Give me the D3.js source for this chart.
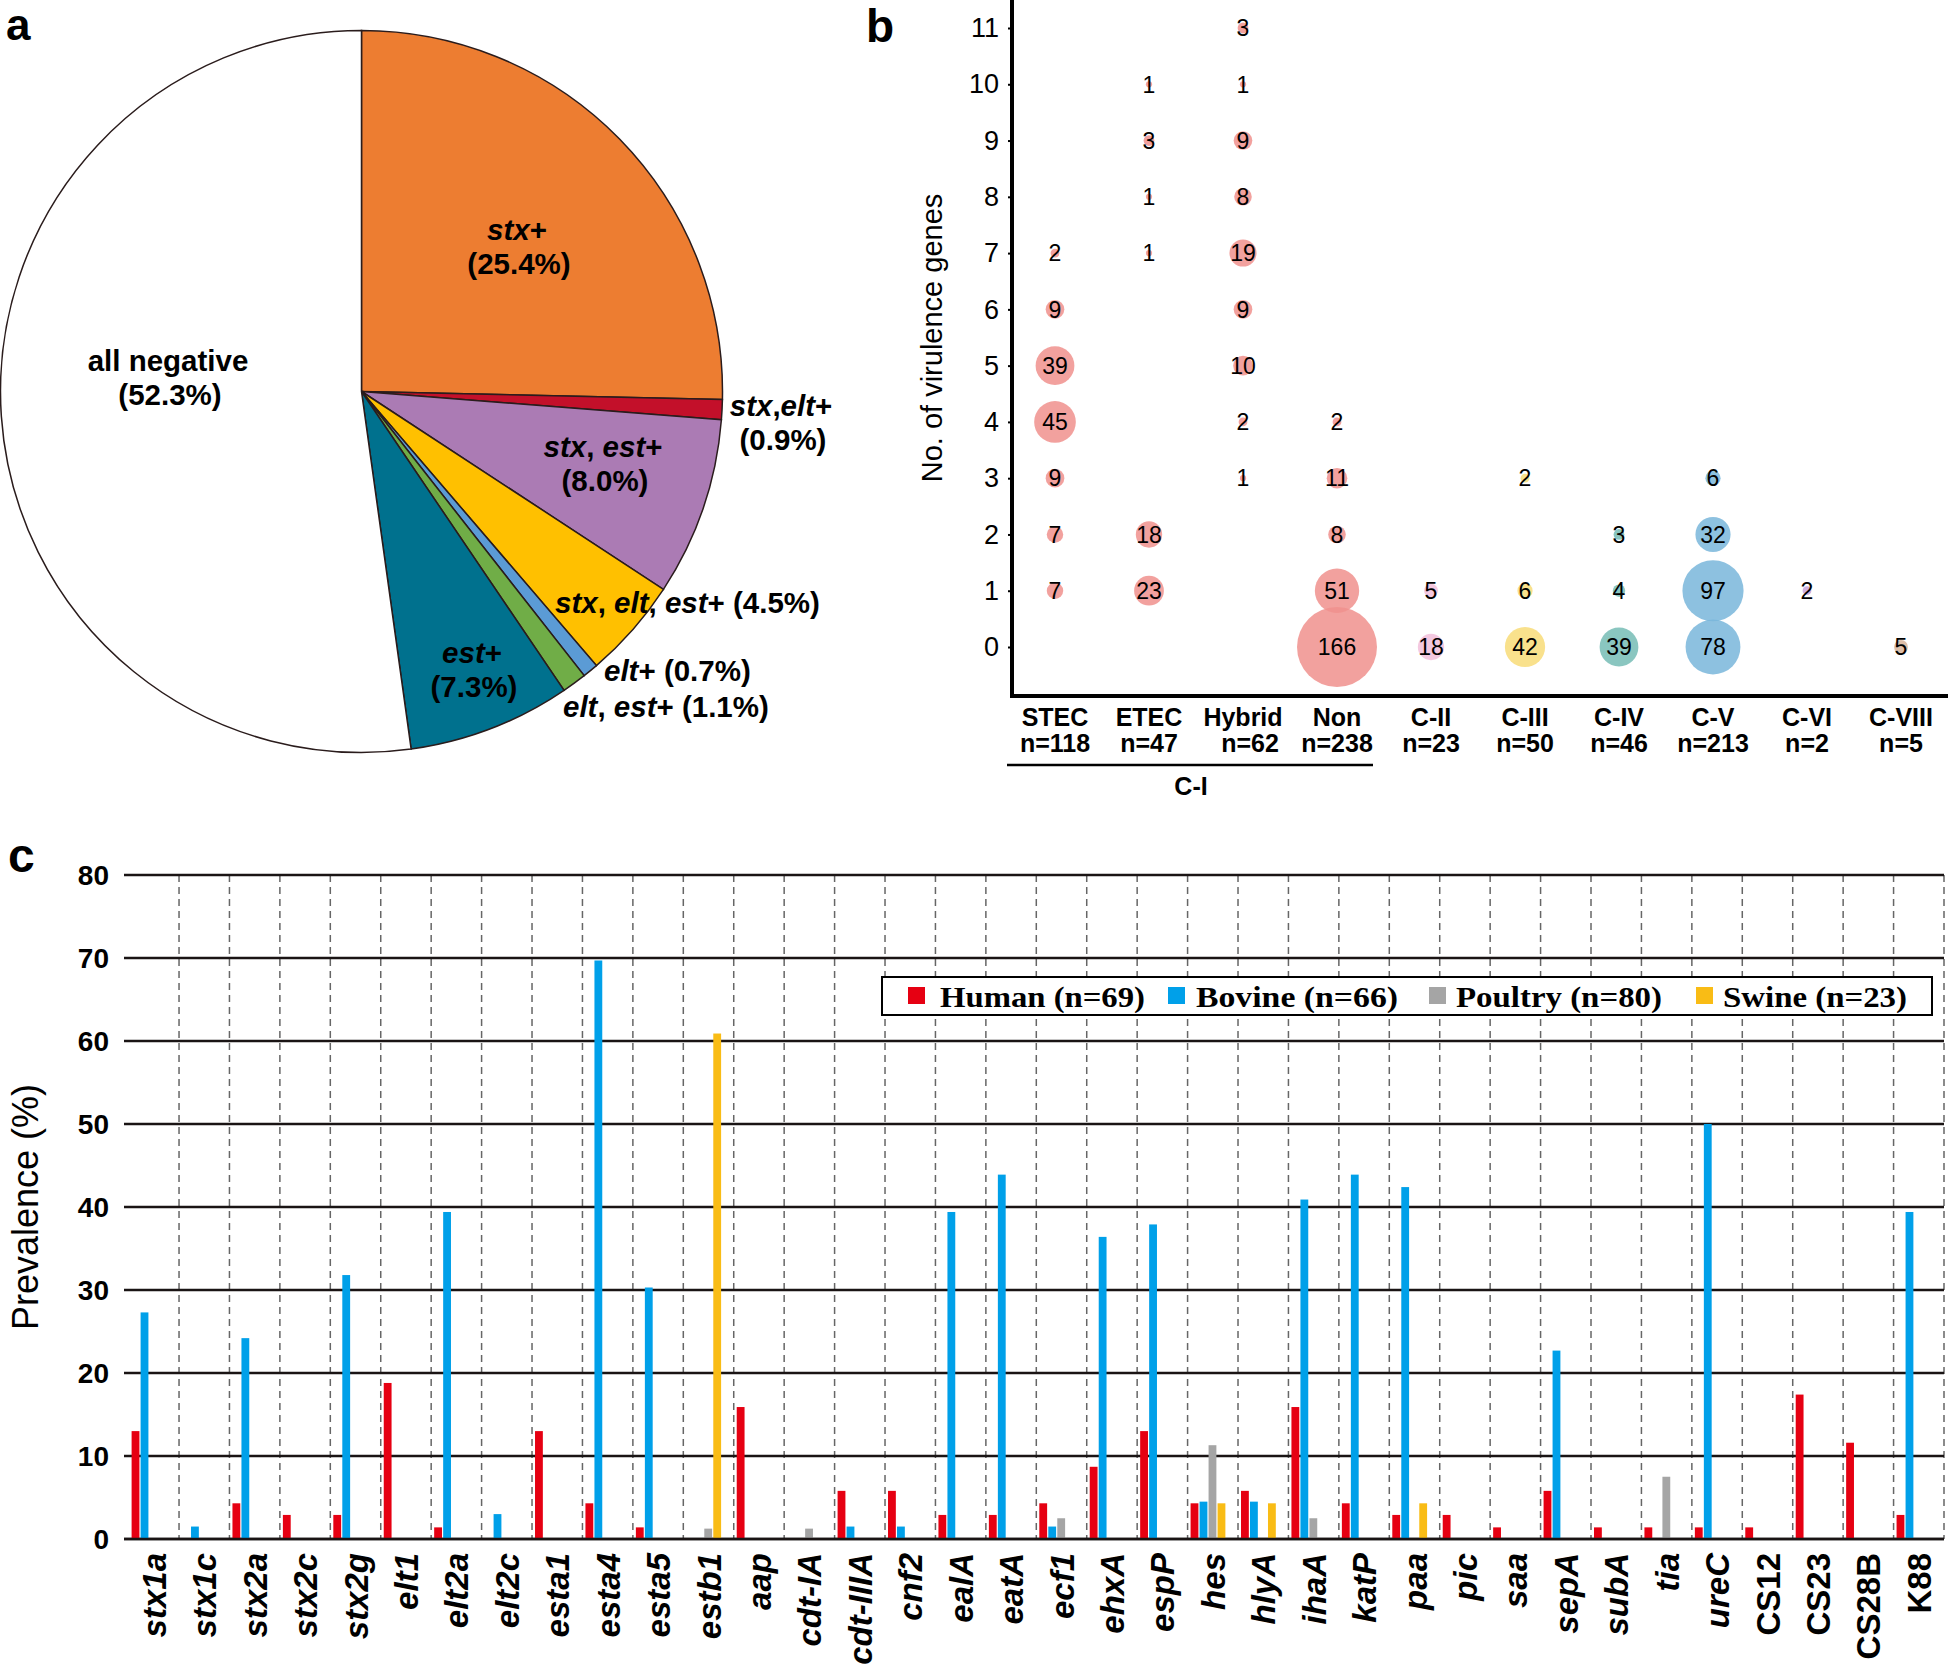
<!DOCTYPE html>
<html lang="en">
<head>
<meta charset="UTF-8">
<script src="https://d3js.org/d3.v7.min.js"></script>
<title>Virulence gene profiles</title>
<style>
  body { margin: 0; background: #fff; }
  text { font-family: "Liberation Sans", Arial, sans-serif; }
  text.serif { font-family: "Liberation Serif", "Times New Roman", serif; }
</style>
</head>
<body>
<svg id="fig" width="1948" height="1666"></svg>
<script>
// ---- panel a data ----
const pieLabels = ["stx+", "stx,elt+", "stx, est+", "stx, elt, est+", "elt+", "elt, est+", "est+", "all negative"];
const piePercent = [25.4, 0.9, 8.0, 4.5, 0.7, 1.1, 7.3, 52.3];

// ---- panel b data ----
const groups = ["STEC", "ETEC", "Hybrid", "Non", "C-II", "C-III", "C-IV", "C-V", "C-VI", "C-VIII"];
const groupN = [118, 47, 62, 238, 23, 50, 46, 213, 2, 5];
const geneNumbers = [0, 1, 2, 3, 4, 5, 6, 7, 8, 9, 10, 11];
// strain counts indexed by number of virulence genes (0..11)
const countSTEC   = [0, 7, 7, 9, 45, 39, 9, 2, 0, 0, 0, 0];
const countETEC   = [0, 23, 18, 0, 0, 0, 0, 1, 1, 3, 1, 0];
const countHybrid = [0, 0, 0, 1, 2, 10, 9, 19, 8, 9, 1, 3];
const countNon    = [166, 51, 8, 11, 2, 0, 0, 0, 0, 0, 0, 0];
const countCII    = [18, 5, 0, 0, 0, 0, 0, 0, 0, 0, 0, 0];
const countCIII   = [42, 6, 0, 2, 0, 0, 0, 0, 0, 0, 0, 0];
const countCIV    = [39, 4, 3, 0, 0, 0, 0, 0, 0, 0, 0, 0];
const countCV     = [78, 97, 32, 6, 0, 0, 0, 0, 0, 0, 0, 0];
const countCVI    = [0, 2, 0, 0, 0, 0, 0, 0, 0, 0, 0, 0];
const countCVIII  = [5, 0, 0, 0, 0, 0, 0, 0, 0, 0, 0, 0];
const groupCounts = [countSTEC, countETEC, countHybrid, countNon, countCII, countCIII, countCIV, countCV, countCVI, countCVIII];

// ---- panel c data ----
const genes = ["stx1a", "stx1c", "stx2a", "stx2c", "stx2g", "elt1", "elt2a", "elt2c", "esta1", "esta4", "esta5", "estb1",
  "aap", "cdt-IA", "cdt-IIIA", "cnf2", "ealA", "eatA", "ecf1", "ehxA", "espP", "hes", "hlyA", "ihaA", "katP", "paa",
  "pic", "saa", "sepA", "subA", "tia", "ureC", "CS12", "CS23", "CS28B", "K88"];
const human   = [13.0, 0, 4.3, 2.9, 2.9, 18.8, 1.4, 0, 13.0, 4.3, 1.4, 0, 15.9, 0, 5.8, 5.8, 2.9, 2.9, 4.3, 8.7, 13.0, 4.3, 5.8, 15.9, 4.3, 2.9, 2.9, 1.4, 5.8, 1.4, 1.4, 1.4, 1.4, 17.4, 11.6, 2.9];
const bovine  = [27.3, 1.5, 24.2, 0, 31.8, 0, 39.4, 3.0, 0, 69.7, 30.3, 0, 0, 0, 1.5, 1.5, 39.4, 43.9, 1.5, 36.4, 37.9, 4.5, 4.5, 40.9, 43.9, 42.4, 0, 0, 22.7, 0, 0, 50.0, 0, 0, 0, 39.4];
const poultry = [0, 0, 0, 0, 0, 0, 0, 0, 0, 0, 0, 1.25, 0, 1.25, 0, 0, 0, 0, 2.5, 0, 0, 11.3, 0, 2.5, 0, 0, 0, 0, 0, 0, 7.5, 0, 0, 0, 0, 0];
const swine   = [0, 0, 0, 0, 0, 0, 0, 0, 0, 0, 0, 60.9, 0, 0, 0, 0, 0, 0, 0, 0, 0, 4.3, 4.3, 0, 0, 4.3, 0, 0, 0, 0, 0, 0, 0, 0, 0, 0];
const seriesNames = ["Human (n=69)", "Bovine (n=66)", "Poultry (n=80)", "Swine (n=23)"];
const prevTicks = [0, 10, 20, 30, 40, 50, 60, 70, 80];

// ---- styles ----
const pieColors = ["#ED7D31", "#C3102A", "#AB7BB4", "#FFC000", "#5B9BD5", "#70AD47", "#00718E", "#FFFFFF"];
const groupColors = ["#F0918D", "#F0918D", "#F0918D", "#F0918D", "#F2BEDB", "#F8DC78", "#76BCB5", "#79B6DB", "#C9A2D8", "#D8B49A"];
const seriesColors = ["#E60012", "#00A0E9", "#A5A5A5", "#F9BC15"];

const svg = d3.select("#fig");
svg.append("rect").attr("width", 1948).attr("height", 1666).attr("fill", "#fff");

// panel letters
[["a", 6, 40, 44], ["b", 866, 42, 46], ["c", 8, 872, 48]].forEach(([t, x, y, s]) => {
  svg.append("text").attr("x", x).attr("y", y).attr("font-size", s).attr("font-weight", "bold").text(t);
});

// ================= panel a: pie =================
const pa = svg.append("g").attr("transform", "translate(361.5,391.5)");
const pie = d3.pie().sort(null).value(d => d);
const arc = d3.arc().innerRadius(0).outerRadius(361);
pa.selectAll("path").data(pie(piePercent)).join("path")
  .attr("d", arc)
  .attr("fill", (d, i) => pieColors[i])
  .attr("stroke", "#2a1c1c")
  .attr("stroke-width", 1.5);

// label placement (absolute coords), wrap = percentage on a second line
const pieLabelLayout = [
  {x: 517, y: 240, wrap: true},
  {x: 781, y: 416, wrap: true},
  {x: 603, y: 457, wrap: true},
  {x: 555, y: 613, wrap: false},
  {x: 604, y: 681, wrap: false},
  {x: 563, y: 717, wrap: false},
  {x: 472, y: 663, wrap: true},
  {x: 168, y: 371, wrap: true}
];
const pctFmt = d3.format(".1f");

function geneText(sel, str) {
  // gene names in italics, everything else upright
  str.split(/(stx|elt|est)/).filter(s => s.length).forEach(s => {
    sel.append("tspan").attr("font-style", /^(stx|elt|est)$/.test(s) ? "italic" : "normal").text(s);
  });
}

pieLabels.forEach((lab, i) => {
  const L = pieLabelLayout[i];
  const pct = "(" + pctFmt(piePercent[i]) + "%)";
  if (L.wrap) {
    const t1 = svg.append("text").attr("x", L.x).attr("y", L.y)
      .attr("text-anchor", "middle").attr("font-size", 29.5).attr("font-weight", "bold");
    geneText(t1, lab);
    svg.append("text").attr("x", L.x + 2).attr("y", L.y + 34)
      .attr("text-anchor", "middle").attr("font-size", 29.5).attr("font-weight", "bold").text(pct);
  } else {
    const t = svg.append("text").attr("x", L.x).attr("y", L.y)
      .attr("font-size", 29.5).attr("font-weight", "bold");
    geneText(t, lab + " ");
    t.append("tspan").attr("font-style", "normal").text(" " + pct);
  }
});

// ================= panel b: bubbles =================
const bx = d3.scalePoint().domain(groups).range([1055, 1901]);
const by = d3.scaleLinear().domain([0, 11]).range([647, 28]);
const br = d3.scaleSqrt().domain([0, 166]).range([0, 40]);

const bubbles = [];
groups.forEach((g, gi) => {
  groupCounts[gi].forEach((c, k) => {
    if (c > 0) bubbles.push({group: g, gi: gi, genes: geneNumbers[k], count: c});
  });
});

const pb = svg.append("g");
pb.selectAll("circle").data(bubbles).join("circle")
  .attr("cx", d => bx(d.group))
  .attr("cy", d => by(d.genes))
  .attr("r", d => br(d.count))
  .attr("fill", d => groupColors[d.gi])
  .attr("fill-opacity", 0.85);
pb.selectAll("text.cnt").data(bubbles).join("text")
  .attr("class", "cnt")
  .attr("x", d => bx(d.group))
  .attr("y", d => by(d.genes))
  .attr("dy", "0.36em")
  .attr("text-anchor", "middle")
  .attr("font-size", 23)
  .text(d => d.count);

const yAxisB = svg.append("g").attr("transform", "translate(1012,0)")
  .call(d3.axisLeft(by).tickValues(geneNumbers).tickSize(4).tickPadding(9).tickSizeOuter(0));
yAxisB.select(".domain").remove();
yAxisB.selectAll(".tick line").attr("stroke", "#000").attr("stroke-width", 2);
yAxisB.selectAll(".tick text").attr("font-size", 27).attr("fill", "#000");

svg.append("line").attr("x1", 1012).attr("x2", 1012).attr("y1", 0).attr("y2", 698)
  .attr("stroke", "#000").attr("stroke-width", 4);
svg.append("line").attr("x1", 1010).attr("x2", 1948).attr("y1", 696).attr("y2", 696)
  .attr("stroke", "#000").attr("stroke-width", 4);

groups.forEach((g, i) => {
  svg.append("text").attr("x", bx(g)).attr("y", 726).attr("text-anchor", "middle")
    .attr("font-size", 25).attr("font-weight", "bold").text(g);
  svg.append("text").attr("x", bx(g) + (g === "Hybrid" ? 7 : 0)).attr("y", 752).attr("text-anchor", "middle")
    .attr("font-size", 25).attr("font-weight", "bold").text("n=" + groupN[i]);
});
// C-I bracket under the first four groups
svg.append("line").attr("x1", bx("STEC") - 48).attr("x2", bx("Non") + 36).attr("y1", 765).attr("y2", 765)
  .attr("stroke", "#000").attr("stroke-width", 2.5);
svg.append("text").attr("x", (bx("STEC") + bx("Non")) / 2 - 5).attr("y", 795).attr("text-anchor", "middle")
  .attr("font-size", 25).attr("font-weight", "bold").text("C-I");

svg.append("text").attr("transform", "translate(932,338) rotate(-90)")
  .attr("text-anchor", "middle").attr("dy", "0.35em").attr("font-size", 29)
  .text("No. of virulence genes");

// ================= panel c: grouped bars =================
const cx = d3.scaleBand().domain(genes).range([128.6, 1944]).padding(0);
const sub = d3.scaleBand().domain(d3.range(seriesNames.length)).range([3, 37.8]).paddingInner(0.13);
const cy = d3.scaleLinear().domain([0, 80]).range([1539, 875]);
const series = [human, bovine, poultry, swine];

const pc = svg.append("g");
// dashed separators between genes
pc.selectAll("line.sep").data(genes).join("line")
  .attr("class", "sep")
  .attr("x1", d => cx(d) + cx.bandwidth()).attr("x2", d => cx(d) + cx.bandwidth())
  .attr("y1", cy(80)).attr("y2", cy(0))
  .attr("stroke", "#666").attr("stroke-width", 1.5).attr("stroke-dasharray", "7,5");

// horizontal grid lines
pc.selectAll("line.grid").data(prevTicks).join("line")
  .attr("class", "grid")
  .attr("x1", 124).attr("x2", 1944)
  .attr("y1", d => cy(d)).attr("y2", d => cy(d))
  .attr("stroke", "#1a1414").attr("stroke-width", 2.5);

pc.selectAll("text.ytick").data(prevTicks).join("text")
  .attr("class", "ytick")
  .attr("x", 109).attr("y", d => cy(d)).attr("dy", "0.36em")
  .attr("text-anchor", "end").attr("font-size", 28).attr("font-weight", "bold")
  .text(d => d);

// bars
series.forEach((vals, si) => {
  pc.append("g").selectAll("rect").data(genes.map((g, i) => ({g: g, v: vals[i]})).filter(d => d.v > 0))
    .join("rect")
    .attr("x", d => cx(d.g) + sub(si))
    .attr("width", sub.bandwidth())
    .attr("y", d => cy(d.v))
    .attr("height", d => cy(0) - cy(d.v))
    .attr("fill", seriesColors[si]);
});
// redraw the zero line on top of the bars
pc.append("line").attr("x1", 124).attr("x2", 1944).attr("y1", cy(0)).attr("y2", cy(0))
  .attr("stroke", "#1a1414").attr("stroke-width", 2.5);

// gene labels
pc.selectAll("text.gene").data(genes).join("text")
  .attr("class", "gene")
  .attr("transform", d => `translate(${cx(d) + cx.bandwidth() / 2 + 12},1553) rotate(-90)`)
  .attr("text-anchor", "end")
  .attr("font-size", 33).attr("font-weight", "bold")
  .attr("font-style", d => /^(CS|K)\d/.test(d) ? "normal" : "italic")
  .text(d => d);

svg.append("text").attr("transform", "translate(25,1207) rotate(-90)")
  .attr("text-anchor", "middle").attr("dy", "0.35em").attr("font-size", 36)
  .text("Prevalence (%)");

// legend
const lg = svg.append("g");
lg.append("rect").attr("x", 882).attr("y", 977).attr("width", 1050).attr("height", 38)
  .attr("fill", "#fff").attr("stroke", "#000").attr("stroke-width", 2);
const legendLayout = [{sx: 908, tx: 940, w: 205}, {sx: 1168, tx: 1196, w: 202}, {sx: 1429, tx: 1456, w: 206}, {sx: 1696, tx: 1723, w: 184}];
seriesNames.forEach((name, i) => {
  const L = legendLayout[i];
  lg.append("rect").attr("x", L.sx).attr("y", 987).attr("width", 17).attr("height", 17).attr("fill", seriesColors[i]);
  lg.append("text").attr("class", "serif").attr("x", L.tx).attr("y", 1007)
    .attr("font-size", 30).attr("font-weight", "bold")
    .attr("textLength", L.w).attr("lengthAdjust", "spacingAndGlyphs")
    .text(name);
});
</script>
</body>
</html>
